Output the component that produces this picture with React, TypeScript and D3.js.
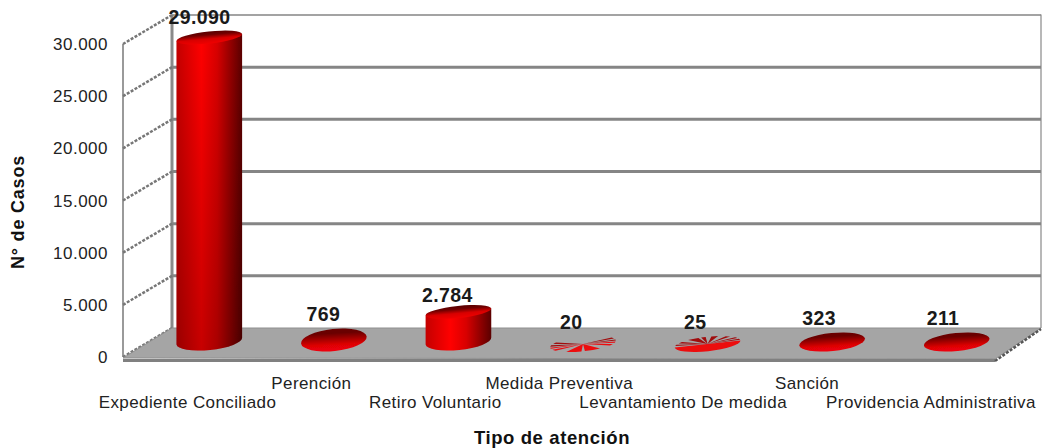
import React from "react";
import * as d3 from "d3";

const categories = ["Expediente Conciliado", "Perención", "Retiro Voluntario", "Medida Preventiva", "Levantamiento De medida", "Sanción", "Providencia Administrativa"];
const values = [29090, 769, 2784, 20, 25, 323, 211];
const valueLabels = ["29.090", "769", "2.784", "20", "25", "323", "211"];
const ticks = [0, 5000, 10000, 15000, 20000, 25000, 30000];
const tickLabels = ["0", "5.000", "10.000", "15.000", "20.000", "25.000", "30.000"];
const labelRow = [1, 0, 1, 0, 1, 0, 1];
const labelBaselines = [24, 321, 302, 329, 329, 325, 325];
const sectors20 = [[62, 72], [82, 90], [98, 106], [116, 126], [150, 178], [184, 212], [238, 250], [260, 268], [276, 286], [296, 306]];
const sectors25 = [[90, 270], [282, 290], [300, 310], [325, 345], [350, 358], [8, 20], [35, 45], [58, 66], [74, 84]];

const W = 1044, H = 448;
const FL = 123, BL = 172, BR = 1041, FR = 995;
const dy = 29;
const y = d3.scaleLinear().domain([0, 30000]).range([357, 44]);
const xBar = d3.scaleBand<number>().domain(d3.range(7)).range([147, 1019]);
const xText = d3.scaleLinear().domain([0, 6]).range([187.5, 931]);
const xVal = d3.scaleLinear().domain([0, 6]).range([199.5, 943]);
const RX = 33, RY = 9, TILT = -6;
const baseY = 341;
const dash = "3 1.5";
const arcGen = d3.arc();

function Cylinder({ i }: { i: number }) {
  const v = values[i];
  const cx = xBar(i)! + xBar.bandwidth() / 2;
  const h = y(0) - y(v);
  const topY = baseY - h;
  const t = (yy: number) => `translate(${cx},${yy}) rotate(${TILT})`;
  const rad = (TILT * Math.PI) / 180;
  const ex = RX * Math.cos(rad), ey = RX * Math.sin(rad);
  const body = `M${cx - ex},${topY - ey} L${cx - ex},${baseY - ey} A${RX},${RY} ${TILT} 0 0 ${cx + ex},${baseY + ey} L${cx + ex},${topY + ey} Z`;
  if (v < 100) {
    const list = v === 20 ? sectors20 : sectors25;
    return (
      <g transform={`${t(baseY + 3)} scale(${RX},${RY * 0.8})`}>
        {list.map(([a, b], k) => (
          <path
            key={k}
            d={arcGen({ innerRadius: 0, outerRadius: 1, startAngle: (a * Math.PI) / 180, endAngle: (b * Math.PI) / 180 } as any) as string}
            fill={a >= 90 && b <= 270 ? "#ec0a10" : "#a00a0c"}
          />
        ))}
      </g>
    );
  }
  if (h < 10) {
    const thick = h > 5;
    return <ellipse rx={RX} ry={thick ? 11 : RY} transform={t(baseY + (thick ? -1 : 1))} fill="url(#capFlat)" />;
  }
  return (
    <g>
      <path d={body} fill="url(#cyl)" />
      {h > 100 && <path d={body} fill="url(#shade)" />}
      <ellipse rx={RX} ry={6} transform={t(topY)} fill="url(#capTall)" />
    </g>
  );
}

export default function App() {
  const font = "Liberation Sans, Arial, sans-serif";
  return (
    <svg width={W} height={H} viewBox={`0 0 ${W} ${H}`} style={{ position: "absolute", left: 0, top: 0, background: "#fff" }} fontFamily={font}>
      <defs>
        <linearGradient id="cyl" x1="0" x2="1" y1="0" y2="0">
          <stop offset="0" stopColor="#c40006" />
          <stop offset="0.38" stopColor="#ff0000" />
          <stop offset="0.62" stopColor="#d80000" />
          <stop offset="1" stopColor="#5a0000" />
        </linearGradient>
        <linearGradient id="shade" x1="0" x2="0" y1="0" y2="1">
          <stop offset="0" stopColor="#000" stopOpacity="0" />
          <stop offset="1" stopColor="#000" stopOpacity="0.22" />
        </linearGradient>
        <linearGradient id="capFlat" x1="0.1" x2="0.25" y1="1" y2="0">
          <stop offset="0" stopColor="#f40008" />
          <stop offset="0.35" stopColor="#dc0006" />
          <stop offset="0.85" stopColor="#6a0000" />
        </linearGradient>
        <linearGradient id="capTall" x1="0.3" x2="0.4" y1="1" y2="0">
          <stop offset="0" stopColor="#f00000" />
          <stop offset="0.4" stopColor="#d80000" />
          <stop offset="0.75" stopColor="#700000" />
          <stop offset="1" stopColor="#5a0000" />
        </linearGradient>
        <filter id="soft" x="-5%" y="-5%" width="110%" height="110%">
          <feGaussianBlur stdDeviation="0.5" />
        </filter>
      </defs>
      <g filter="url(#soft)">
        <path d={`M${FL},${y(0)} L${FL},${y(30000)} L${BL},${y(30000) - dy} L${BL},${y(0) - dy} Z`} fill="#fff" />
        <line x1={FL} x2={FL} y1={y(30000)} y2={y(0)} stroke="#9a9a9a" strokeWidth={2} />
        <line x1={BL} x2={BL} y1={y(30000) - dy - 0.5} y2={y(0) - dy} stroke="#8a8a8a" strokeWidth={3} />
        <line x1={BR} x2={BR} y1={y(30000) - dy - 0.5} y2={y(0) - dy} stroke="#a0a0a0" strokeWidth={1.5} />
        {ticks.map((t) => (
          <g key={t}>
            {t > 0 && (
              <line x1={BL} x2={BR} y1={y(t) - dy} y2={y(t) - dy} stroke="#858585" strokeWidth={t === 30000 ? 1.5 : 3} />
            )}
            <line x1={FL} x2={BL} y1={y(t)} y2={y(t) - dy} stroke="#777" strokeWidth={2.5} strokeDasharray={dash} />
          </g>
        ))}
        <path d={`M${FL},${y(0) + 1} L${BL},${y(0) - dy} L${BR},${y(0) - dy} L${FR},${y(0) + 2} Z`} fill="#a5a5a5" stroke="#8f8f8f" strokeWidth={1} />
        <path d={`M${FL},${y(0) + 2} L${FR},${y(0) + 2} L${FR},${y(0) + 5} L${FL},${y(0) + 5} Z`} fill="#808080" />
        <path d={`M${FR},${y(0) + 4} L${BR},${y(0) - dy + 1}`} stroke="#555" strokeWidth={2.5} strokeDasharray={dash} />
        {values.map((_, i) => (
          <Cylinder key={i} i={i} />
        ))}
      </g>
      {ticks.map((t, i) => (
        <text key={t} x={108} y={y(t) + 6} textAnchor="end" fontSize={17} letterSpacing={0.5} fill="#222">
          {tickLabels[i]}
        </text>
      ))}
      {values.map((v, i) => (
        <text key={i} x={xVal(i)} y={labelBaselines[i]} textAnchor="middle" fontSize={19.5} fontWeight="bold" letterSpacing={0.4} fill="#1a1a1a">
          {valueLabels[i]}
        </text>
      ))}
      {categories.map((c, i) => (
        <text key={c} x={xText(i)} y={labelRow[i] ? 408 : 389} textAnchor="middle" fontSize={17} letterSpacing={0.4} fill="#222">
          {c}
        </text>
      ))}
      <text x={552} y={444} textAnchor="middle" fontSize={18.5} fontWeight="bold" letterSpacing={0.6} fill="#111">Tipo de atención</text>
      <text transform="translate(24,212) rotate(-90)" textAnchor="middle" fontSize={18} fontWeight="bold" letterSpacing={0.8} fill="#111">N° de Casos</text>
    </svg>
  );
}
